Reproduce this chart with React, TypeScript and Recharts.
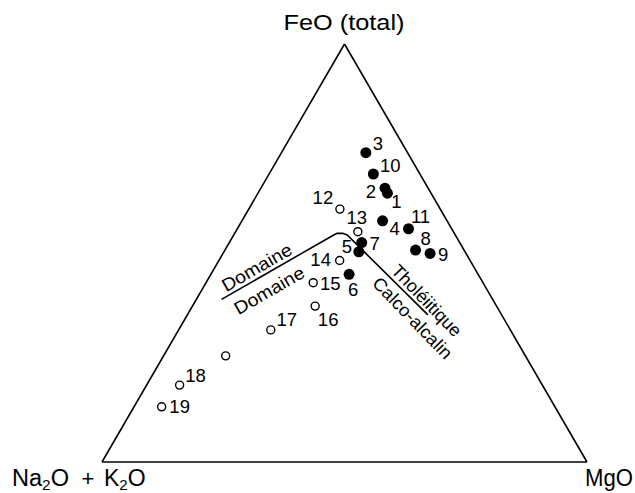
import React from 'react';
import { ComposedChart, Scatter, XAxis, YAxis, ReferenceLine } from 'recharts';

// AFM diagram: Na2O+K2O (A) – FeO total (F) – MgO (M), in wt %
const SAMPLE_IDS = ['1', '2', '3', '4', '5', '6', '7', '8', '9', '10', '11', '12', '13', '14', '15', '16', '17', '', '18', '19'];
const ALKALI = [9.0, 8.9, 8.6, 13.3, 21.9, 26.6, 20.2, 10.0, 7.4, 9.6, 8.9, 20.7, 19.7, 26.9, 35.0, 37.4, 49.4, 61.8, 74.8, 81.1];
const FEO = [64.3, 65.5, 74.0, 57.7, 50.3, 44.9, 52.5, 50.7, 49.9, 68.9, 55.8, 60.5, 55.1, 48.2, 42.9, 37.3, 31.6, 25.4, 18.4, 13.2];
const MGO = [26.7, 25.6, 17.4, 29.0, 27.8, 28.5, 27.3, 39.3, 42.7, 21.5, 35.3, 18.8, 25.2, 24.9, 22.1, 25.3, 19.0, 12.8, 6.8, 5.7];
// filled = tholeiitic samples, open = calc-alkaline samples
const FILLED = [true, true, true, true, true, true, true, true, true, true, true, false, false, false, false, false, false, false, false, false];

// tholeiitic / calc-alkaline divide
const DIVIDE_A = [55.9, 25.3, 24.2, 23.0, 22.3, 15.2];
const DIVIDE_F = [38.9, 54.2, 54.7, 54.7, 54.3, 35.2];
const DIVIDE_M = [5.2, 20.5, 21.1, 22.3, 23.4, 49.6];

// label offsets (px) from each marker
const LABEL_OFFSET: Record<string, [number, number]> = {
  '1': [9, 8], '2': [-14, 3], '3': [12, -9], '4': [12, 8], '5': [-12, -5], '6': [4, 15],
  '7': [13, 1], '8': [10, -12], '9': [13, 1], '10': [17, -8], '11': [12, -12], '12': [-17, -12],
  '13': [-1, -14], '14': [-19, -1], '15': [17, 1], '16': [13, 13], '17': [16, -10], '18': [16, -10], '19': [18, 0],
};

const REGION_LABELS = [
  { text: 'Domaine', a: 44.8, f: 46.5, m: 8.7, angle: -30, len: 78 },
  { text: 'Domaine', a: 45.0, f: 41.0, m: 14.0, angle: -30, len: 78 },
  { text: 'Tholéiitique', a: 13.8, f: 38.6, m: 47.6, angle: 46, len: 92 },
  { text: 'Calco-alcalin', a: 18.8, f: 34.4, m: 46.8, angle: 46, len: 106 },
];

const toXY = (a: number, f: number, m: number) => {
  const s = a + f + m;
  return { x: (m + f / 2) / s, y: f / s };
};

const samples = SAMPLE_IDS.map((id, i) => ({ id, filled: FILLED[i], ...toXY(ALKALI[i], FEO[i], MGO[i]) }));
const divide = DIVIDE_A.map((a, i) => toXY(a, DIVIDE_F[i], DIVIDE_M[i]));
const regions = REGION_LABELS.map((r) => ({ ...r, ...toXY(r.a, r.f, r.m) }));

const FONT = '"Liberation Sans", Arial, Helvetica, sans-serif';

const SampleShape = (props: any) => {
  const { cx, cy, payload } = props;
  const off = LABEL_OFFSET[payload.id];
  return (
    <g>
      {payload.filled ? (
        <circle cx={cx} cy={cy} r={5.5} fill="#000" />
      ) : (
        <circle cx={cx} cy={cy} r={4} fill="#fff" stroke="#000" strokeWidth={1.4} />
      )}
      {off && (
        <text x={cx + off[0]} y={cy + off[1] + 6.5} textAnchor="middle" fontSize={18.5} fontFamily={FONT} fill="#000">
          {payload.id}
        </text>
      )}
    </g>
  );
};

const RegionShape = (props: any) => {
  const { cx, cy, payload } = props;
  return (
    <text
      x={cx}
      y={cy + 6}
      textAnchor="middle"
      fontSize={18}
      fontFamily={FONT}
      fill="#000"
      textLength={payload.len}
      lengthAdjust="spacingAndGlyphs"
      transform={`rotate(${payload.angle} ${cx} ${cy})`}
    >
      {payload.text}
    </text>
  );
};

export default function App() {
  return (
    <div style={{ position: 'absolute', left: 0, top: 0, width: 635, height: 493, background: '#fff' }}>
      <ComposedChart width={635} height={493} margin={{ top: 44, right: 48, bottom: 31, left: 102 }}>
        <XAxis type="number" dataKey="x" domain={[0, 1]} hide />
        <YAxis type="number" dataKey="y" domain={[0, 1]} hide />
        <ReferenceLine segment={[{ x: 0, y: 0 }, { x: 1, y: 0 }]} stroke="#000" strokeWidth={1.6} />
        <ReferenceLine segment={[{ x: 0, y: 0 }, { x: 0.5, y: 1 }]} stroke="#000" strokeWidth={1.6} />
        <ReferenceLine segment={[{ x: 1, y: 0 }, { x: 0.5, y: 1 }]} stroke="#000" strokeWidth={1.6} />
        <Scatter
          data={divide}
          line={{ stroke: '#000', strokeWidth: 1.6 }}
          lineType="joint"
          shape={() => <g />}
          isAnimationActive={false}
        />
        <Scatter data={regions} shape={RegionShape} isAnimationActive={false} />
        <Scatter data={samples} shape={SampleShape} isAnimationActive={false} />
      </ComposedChart>
      <svg width={635} height={493} style={{ position: 'absolute', left: 0, top: 0, pointerEvents: 'none' }}>
        <text x={344} y={30} textAnchor="middle" fontSize={22} fontFamily={FONT} textLength={121} lengthAdjust="spacingAndGlyphs">
          FeO (total)
        </text>
        <text x={12} y={486} fontSize={23} fontFamily={FONT} textLength={57} lengthAdjust="spacingAndGlyphs">
          Na<tspan fontSize={15} dy={4}>2</tspan>
          <tspan dy={-4}>O</tspan>
        </text>
        <text x={88} y={486} textAnchor="middle" fontSize={22} fontFamily={FONT}>
          +
        </text>
        <text x={104} y={486} fontSize={23} fontFamily={FONT}>
          K<tspan fontSize={15} dy={4}>2</tspan>
          <tspan dy={-4}>O</tspan>
        </text>
        <text x={633} y={486} textAnchor="end" fontSize={23} fontFamily={FONT} textLength={48} lengthAdjust="spacingAndGlyphs">
          MgO
        </text>
      </svg>
    </div>
  );
}
